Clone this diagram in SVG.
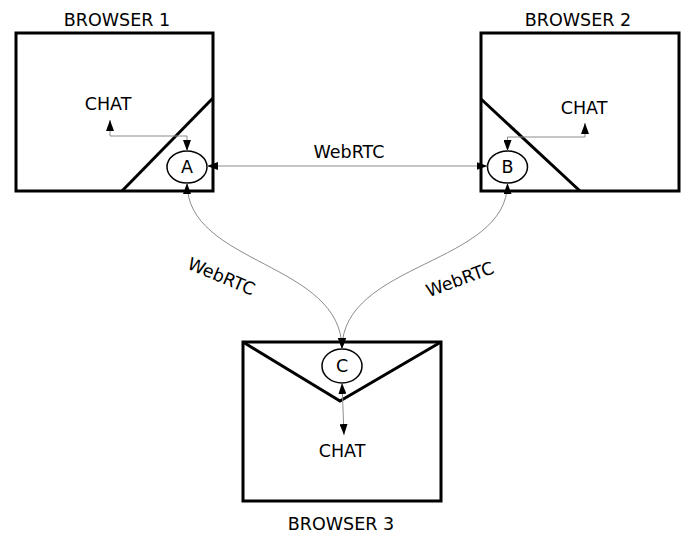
<svg xmlns="http://www.w3.org/2000/svg" width="695" height="537" viewBox="0 0 695 537">
<style>
.box{fill:#fff;stroke:#000;stroke-width:3}
.div{fill:none;stroke:#000;stroke-width:3}
.node{fill:#fff;stroke:#000;stroke-width:1.5}
.lbl{font-family:"DejaVu Sans",sans-serif;font-size:17.5px;fill:#000;text-anchor:middle}
.con{fill:none;stroke:#8c8c8c;stroke-width:1;marker-start:url(#ah);marker-end:url(#ah)}
</style>
<defs>
<marker id="ah" markerUnits="userSpaceOnUse" viewBox="0 0 11 8" refX="11" refY="4" markerWidth="11" markerHeight="8" orient="auto-start-reverse">
<path d="M0,0 L11,4 L0,8 z" fill="#000"/>
</marker>
</defs>
<g id="browser1">
<rect class="box" x="16" y="33" width="197" height="158"/>
<path class="div" d="M213,98 L122,191"/>
<text class="lbl" x="117" y="26">BROWSER 1</text>
<text class="lbl" x="108" y="110">CHAT</text>
</g>
<g id="browser2">
<rect class="box" x="481" y="33" width="198" height="158"/>
<path class="div" d="M481,99 L580,191"/>
<text class="lbl" x="578" y="26">BROWSER 2</text>
<text class="lbl" x="584" y="114">CHAT</text>
</g>
<g id="browser3">
<rect class="box" x="243" y="342" width="198" height="159"/>
<path class="div" d="M243,342 L340,401 L441,342"/>
<text class="lbl" x="342" y="457">CHAT</text>
<text class="lbl" x="341" y="530">BROWSER 3</text>
</g>
<g id="nodeA">
<ellipse class="node" cx="187" cy="167" rx="20" ry="16"/>
<text class="lbl" x="187" y="173">A</text>
</g>
<g id="nodeB">
<ellipse class="node" cx="507.5" cy="167" rx="20" ry="16"/>
<text class="lbl" x="507.5" y="173">B</text>
</g>
<g id="nodeC">
<ellipse class="node" cx="342" cy="366" rx="20" ry="17"/>
<text class="lbl" x="342" y="372">C</text>
</g>
<g id="connectors">
<path class="con" d="M110,120 V136 H187 V151"/>
<path class="con" d="M585,123 V137 H507.5 V151"/>
<path class="con" d="M207,166 H487.5"/>
<path class="con" d="M187,183 C187,265 342,262 342,349"/>
<path class="con" d="M507.5,183 C507.5,265 342,262 342,349"/>
<path class="con" d="M342,383 L344,435"/>
<text class="lbl" x="349" y="158">WebRTC</text>
<text class="lbl" transform="translate(219,282) rotate(23)">WebRTC</text>
<text class="lbl" transform="translate(462,285) rotate(-20)">WebRTC</text>
</g>
</svg>
